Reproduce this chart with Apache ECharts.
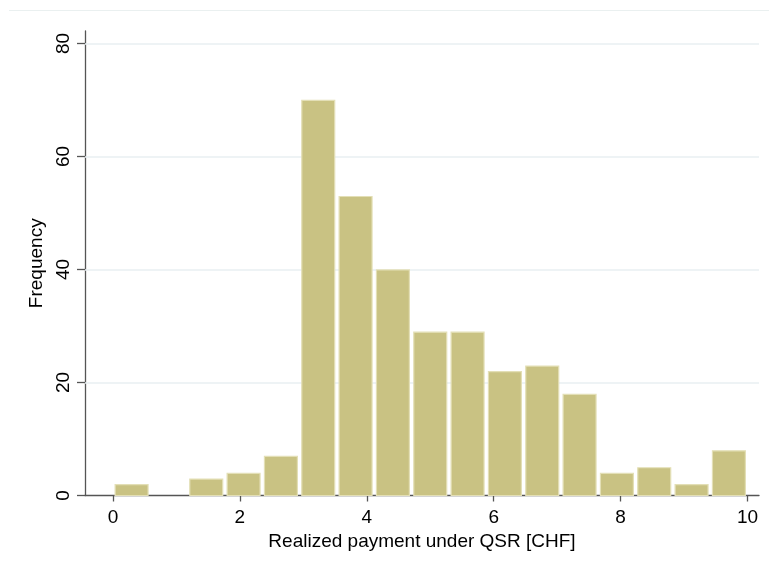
<!DOCTYPE html>
<html>
<head>
<meta charset="utf-8">
<script src="https://cdn.jsdelivr.net/npm/echarts@6/dist/echarts.min.js"></script>
<style>
  html, body { margin: 0; padding: 0; background: #ffffff; }
  #chart { width: 769px; height: 566px; }
</style>
</head>
<body>
<div id="chart"></div>
<script>
// Histogram of realized payments: 17 equal-width bins from 0 to 10 CHF
const binStart = 0;
const binEnd = 10;
const counts = [2, 0, 3, 4, 7, 70, 53, 40, 29, 29, 22, 23, 18, 4, 5, 2, 8];
const xTicks = [0, 2, 4, 6, 8, 10];
const yTicks = [0, 20, 40, 60, 80];

const binWidth = (binEnd - binStart) / counts.length;
const bins = counts.map((c, i) => [binStart + i * binWidth, binStart + (i + 1) * binWidth, c]);

const font = 'Liberation Sans, Arial, sans-serif';
const chart = echarts.init(document.getElementById('chart'), null, { renderer: 'canvas' });

chart.setOption({
  backgroundColor: '#ffffff',
  animation: false,
  grid: { left: 85, right: 10, top: 31, bottom: 70.5, containLabel: false },
  graphic: [{
    type: 'line',
    shape: { x1: 9, y1: 10.5, x2: 769, y2: 10.5 },
    style: { stroke: '#eaf0f0', lineWidth: 1 },
    silent: true
  }],
  xAxis: {
    type: 'value',
    min: -0.44,
    max: 10.18,
    name: 'Realized payment under QSR [CHF]',
    nameLocation: 'middle',
    nameGap: 31,
    nameTextStyle: { fontFamily: font, fontSize: 19, color: '#000' },
    axisLine: { onZero: false, lineStyle: { color: '#555', width: 1.3 } },
    axisTick: { length: 6, customValues: xTicks, lineStyle: { color: '#555', width: 1.3 } },
    axisLabel: { customValues: xTicks, margin: 13, fontFamily: font, fontSize: 19, color: '#000' },
    splitLine: { show: false }
  },
  yAxis: {
    type: 'value',
    min: 0,
    max: 82.2,
    name: 'Frequency',
    nameLocation: 'middle',
    nameRotate: 90,
    nameGap: 36,
    nameTextStyle: { fontFamily: font, fontSize: 19, color: '#000' },
    axisLine: { show: true, onZero: false, lineStyle: { color: '#555', width: 1.3 } },
    axisTick: { show: true, length: 8, customValues: yTicks, lineStyle: { color: '#555', width: 1.3 } },
    axisLabel: { customValues: yTicks, rotate: 90, margin: 12, fontFamily: font, fontSize: 19, color: '#000' },
    splitLine: { show: false }
  },
  series: [{
    // horizontal reference lines at the labelled values, kept behind the bars
    type: 'line',
    data: [],
    silent: true,
    z: 1,
    markLine: {
      symbol: 'none',
      silent: true,
      z: 1,
      label: { show: false },
      lineStyle: { color: '#e8eff2', width: 1.5, type: 'solid' },
      data: yTicks.filter(v => v > 0).map(v => ({ yAxis: v }))
    }
  }, {
    type: 'custom',
    z: 5,
    data: bins,
    encode: { x: [0, 1], y: 2 },
    renderItem: function (params, api) {
      const p0 = api.coord([api.value(0), 0]);
      const p1 = api.coord([api.value(1), api.value(2)]);
      if (api.value(2) <= 0) return null;
      const inset = 2.2;
      return {
        type: 'rect',
        shape: { x: p0[0] + inset, y: p1[1] + 0.5, width: p1[0] - p0[0] - 2 * inset, height: p0[1] - p1[1] - 0.5 },
        style: { fill: '#c9c283', stroke: '#e3dfb6', lineWidth: 1.2 }
      };
    }
  }]
});
</script>
</body>
</html>
